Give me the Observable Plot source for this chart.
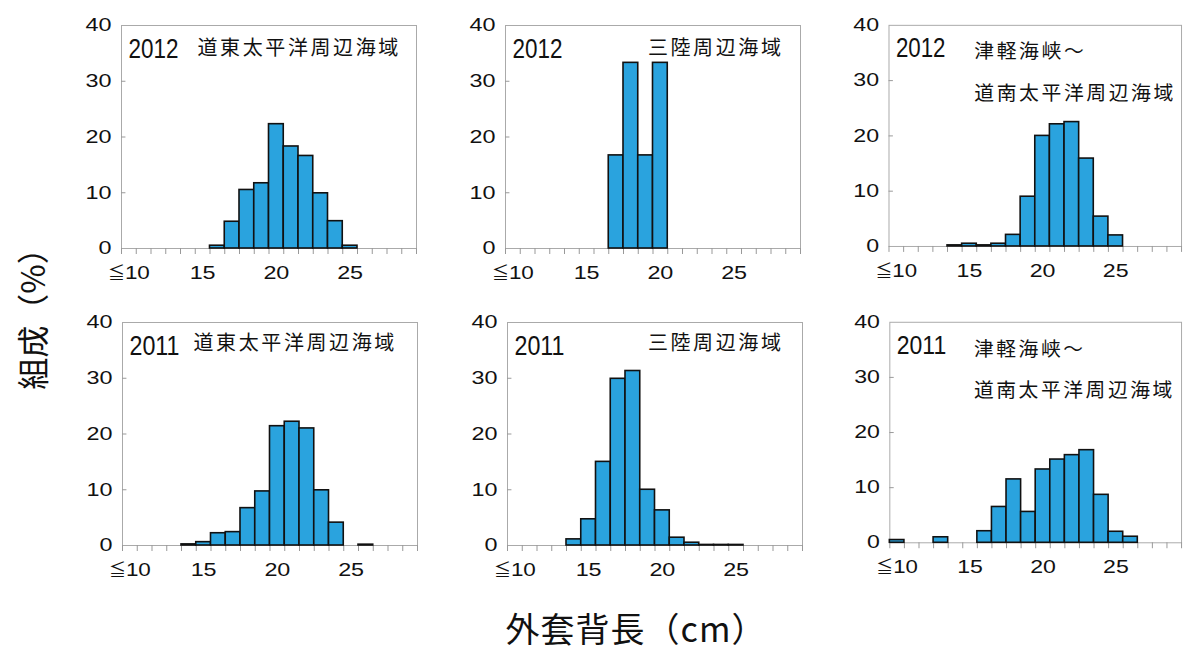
<!DOCTYPE html>
<html><head><meta charset="utf-8">
<script src="https://cdn.jsdelivr.net/npm/d3@7"></script>
<script src="https://cdn.jsdelivr.net/npm/@observablehq/plot@0.6"></script>
<style>
body{margin:0;background:#fff;}
#wrap{position:relative;width:1186px;height:651px;overflow:hidden;background:#fff;}
.panel{position:absolute;}
.panel svg{overflow:visible;}
#ylab{position:absolute;left:31px;top:311px;transform:translate(-50%,-50%) rotate(-90deg);font:32px "Noto Sans CJK JP",sans-serif;white-space:nowrap;color:#111;}
#xlab{position:absolute;left:636px;top:627px;transform:translate(-50%,-50%);font:34px "Noto Sans CJK JP",sans-serif;white-space:nowrap;color:#111;letter-spacing:1px;}
</style></head><body>
<div id="wrap"><div id="ylab">組成（%）</div><div id="xlab">外套背長（cm）</div></div>
<script>
// length classes (cm); first class is "≦10"
const bins = [10,11,12,13,14,15,16,17,18,19,20,21,22,23,24,25,26,27,28,29];
const xTickLabels = [10,15,20,25];
const yTicks = [0,10,20,30,40];
const innerYTicks = [10,20,30];
const years = ["2012","2011"];
const regions = ["道東太平洋周辺海域","三陸周辺海域","津軽海峡～\n道南太平洋周辺海域"];

// composition (%) per length class
const doto2012    = [0,0,0,0,0,0,0.5,4.8,10.5,11.7,22.3,18.3,16.6,9.9,4.9,0.5,0,0,0,0];
const sanriku2012 = [0,0,0,0,0,0,0,16.7,33.3,16.7,33.3,0,0,0,0,0,0,0,0,0];
const tsugaru2012 = [0,0,0,0,0.2,0.5,0.2,0.5,2.1,9.0,20.0,22.1,22.5,15.9,5.4,2.0,0,0,0,0];
const doto2011    = [0,0,0,0,0.2,0.6,2.2,2.4,6.7,9.7,21.4,22.2,21.0,9.9,4.1,0,0.15,0,0,0];
const sanriku2011 = [0,0,0,0,1.1,4.7,15.0,29.9,31.3,10.0,6.3,1.4,0.5,0.1,0.1,0.1,0,0,0,0];
const tsugaru2011 = [0.5,0,0,1.0,0,0,2.1,6.5,11.5,5.6,13.3,15.1,15.9,16.8,8.7,2.0,1.1,0,0,0];

const series = [[doto2012, sanriku2012, tsugaru2012],[doto2011, sanriku2011, tsugaru2011]];
const frameLefts = [[121,505,889],[122,507,890]];
const frameTops = [25,322];
const frameW = 295, frameH = 223;
const mL = 60, mR = 5, mT = 20, mB = 45;
const regionDx = [[76,-17,86],[71,-19,85]];
const regionDy = [[0,0,3],[-2,-2,4]];

const numFont = '"Liberation Sans",sans-serif';
const cjkFont = '"Noto Sans CJK JP",sans-serif';
const boundaries = bins.map(b => b - 0.5).concat([bins[bins.length-1] + 0.5]);
const wrap = document.getElementById("wrap");
const SVGNS = "http://www.w3.org/2000/svg";

for (let r = 0; r < 2; r++) {
  for (let c = 0; c < 3; c++) {
    const data = bins.map((b, i) => ({bin: b, v: series[r][c][i]})).filter(d => d.v > 0);
    const chart = Plot.plot({
      width: mL + frameW + mR,
      height: mT + frameH + mB,
      marginLeft: mL, marginRight: mR, marginTop: mT, marginBottom: mB,
      style: {fontFamily: numFont, fontSize: "18px", color: "#111", background: "transparent"},
      x: {domain: [boundaries[0], boundaries[boundaries.length-1]]},
      y: {domain: [yTicks[0], yTicks[yTicks.length-1]]},
      marks: [
        Plot.frame({stroke: "#aaa", strokeWidth: 1}),
        Plot.axisX({ticks: boundaries, tickSize: 6, tickFormat: () => "", stroke: "#999", label: null}),
        Plot.axisX({ticks: xTickLabels, tickSize: 0, tickPadding: 18, fontSize: 18,
          tickFormat: d => d === bins[0] ? "≦" + d : String(d), label: null}),
        Plot.axisY({ticks: yTicks, tickSize: 0, tickPadding: 10, fontSize: 18, label: null}),
        Plot.ruleY(innerYTicks, {x1: boundaries[0], x2: boundaries[0] + 0.3, stroke: "#999"}),
        Plot.rectY(data, {x1: d => d.bin - 0.5, x2: d => d.bin + 0.5, y: "v",
          fill: "#2aa3de", stroke: "#111", strokeWidth: 1.6}),
        Plot.text([years[r]], {text: d => d, frameAnchor: "top-left", lineAnchor: "top",
          textAnchor: "start", dx: 7, dy: 13, fontSize: 27, fontFamily: numFont, fill: "#111"}),
        Plot.text([regions[c]], {text: d => d, frameAnchor: c === 1 ? "top-right" : "top-left",
          textAnchor: c === 1 ? "end" : "start", lineAnchor: "top", lineHeight: 2.1,
          dx: regionDx[r][c], dy: regionDy[r][c], fontSize: 20, fontFamily: cjkFont, fill: "#111"})
      ]
    });
    const div = document.createElement("div");
    div.className = "panel";
    div.style.left = (frameLefts[r][c] - mL) + "px";
    div.style.top = (frameTops[r] - mT) + "px";
    div.appendChild(chart);
    wrap.appendChild(div);
    chart.querySelectorAll("text").forEach(t => {
      const s = t.textContent;
      if (/[\u3000-\u9fff～]/.test(s)) t.style.letterSpacing = "2.6px";
      else if (years.includes(s)) {
        t.setAttribute("textLength", 50);
        t.setAttribute("lengthAdjust", "spacingAndGlyphs");
      } else if (s.startsWith("≦")) {
        t.textContent = "";
        const a = document.createElementNS(SVGNS, "tspan");
        a.setAttribute("font-family", cjkFont);
        a.setAttribute("font-size", "17");
        a.textContent = "≦";
        const b = document.createElementNS(SVGNS, "tspan");
        b.setAttribute("font-family", numFont);
        b.setAttribute("font-size", "18");
        b.textContent = s.slice(1);
        t.appendChild(a); t.appendChild(b);
        b.setAttribute("textLength", (b.getComputedTextLength() * 1.25).toFixed(1));
        b.setAttribute("lengthAdjust", "spacingAndGlyphs");
      } else if (/^[0-9]+$/.test(s)) {
        const w = t.getComputedTextLength();
        t.setAttribute("textLength", (w * 1.3).toFixed(1));
        t.setAttribute("lengthAdjust", "spacingAndGlyphs");
      }
    });
  }
}
</script>
</body></html>
